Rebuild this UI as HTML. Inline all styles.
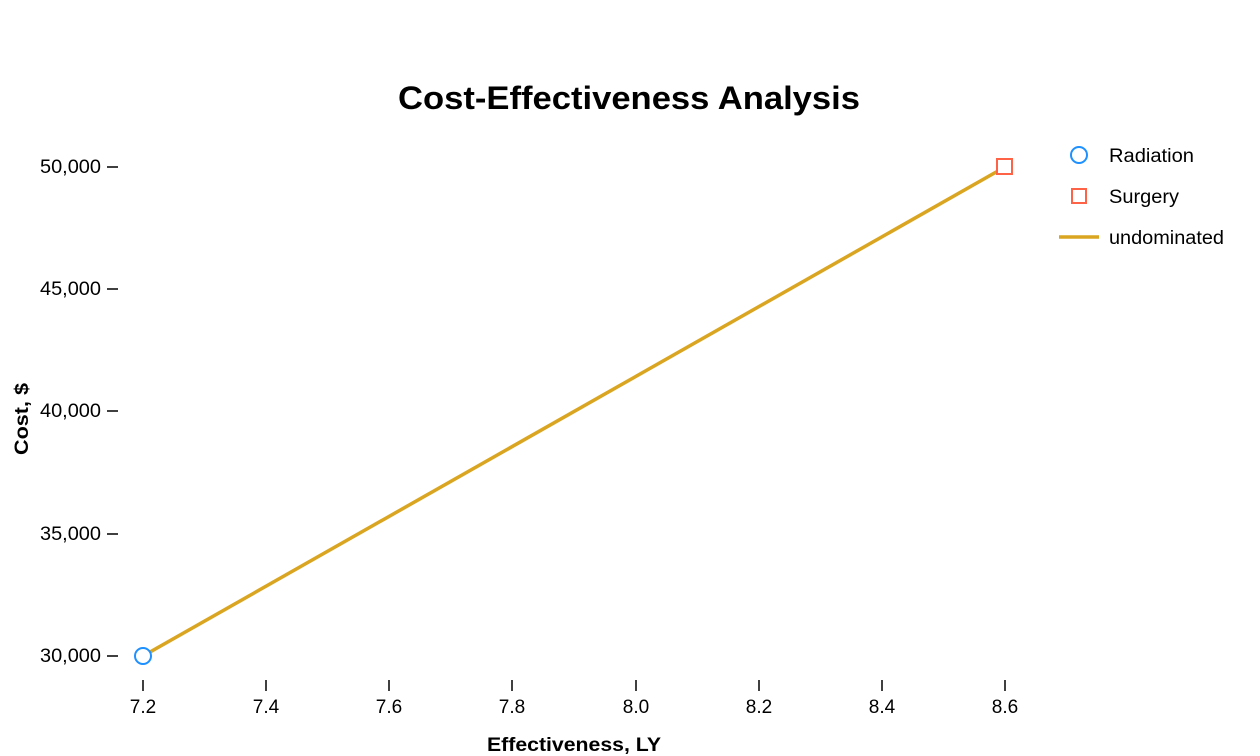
<!DOCTYPE html>
<html><head><meta charset="utf-8"><style>html,body{margin:0;padding:0;background:#fff}svg{display:block}</style></head>
<body>
<svg width="1260" height="756" viewBox="0 0 1260 756" xmlns="http://www.w3.org/2000/svg" font-family="Liberation Sans, sans-serif">
<text x="398" y="109" textLength="462" lengthAdjust="spacingAndGlyphs" font-size="32" font-weight="bold" fill="#000">Cost-Effectiveness Analysis</text>
<g font-size="19" fill="#000">
<text x="40" y="173" textLength="61" lengthAdjust="spacingAndGlyphs">50,000</text>
<text x="40" y="295" textLength="61" lengthAdjust="spacingAndGlyphs">45,000</text>
<text x="40" y="417" textLength="61" lengthAdjust="spacingAndGlyphs">40,000</text>
<text x="40" y="540" textLength="61" lengthAdjust="spacingAndGlyphs">35,000</text>
<text x="40" y="662" textLength="61" lengthAdjust="spacingAndGlyphs">30,000</text>
</g>
<g stroke="#000" stroke-width="1.5">
<line x1="107" x2="118" y1="167" y2="167"/>
<line x1="107" x2="118" y1="289" y2="289"/>
<line x1="107" x2="118" y1="411" y2="411"/>
<line x1="107" x2="118" y1="534" y2="534"/>
<line x1="107" x2="118" y1="656" y2="656"/>
<line x1="143" x2="143" y1="680" y2="691"/>
<line x1="266" x2="266" y1="680" y2="691"/>
<line x1="389" x2="389" y1="680" y2="691"/>
<line x1="512" x2="512" y1="680" y2="691"/>
<line x1="636" x2="636" y1="680" y2="691"/>
<line x1="759" x2="759" y1="680" y2="691"/>
<line x1="882" x2="882" y1="680" y2="691"/>
<line x1="1005" x2="1005" y1="680" y2="691"/>
</g>
<g font-size="19" fill="#000" text-anchor="middle">
<text x="143" y="713">7.2</text>
<text x="266" y="713">7.4</text>
<text x="389" y="713">7.6</text>
<text x="512" y="713">7.8</text>
<text x="636" y="713">8.0</text>
<text x="759" y="713">8.2</text>
<text x="882" y="713">8.4</text>
<text x="1005" y="713">8.6</text>
</g>
<text x="487" y="751" textLength="174" lengthAdjust="spacingAndGlyphs" font-size="19" font-weight="bold">Effectiveness, LY</text>
<text transform="translate(28,455) rotate(-90)" textLength="72" lengthAdjust="spacingAndGlyphs" font-size="19" font-weight="bold">Cost, $</text>
<line x1="143" y1="656" x2="1005" y2="167" stroke="#DAA520" stroke-width="3.5"/>
<circle cx="143" cy="656" r="8" fill="#fff" stroke="#1E90FF" stroke-width="2"/>
<rect x="997" y="159" width="15" height="15" fill="#fff" stroke="#FF6347" stroke-width="2"/>
<circle cx="1079" cy="155" r="8" fill="#fff" stroke="#1E90FF" stroke-width="2"/>
<rect x="1072" y="189" width="14" height="14" fill="#fff" stroke="#FF6347" stroke-width="2"/>
<line x1="1059" x2="1099" y1="237" y2="237" stroke="#DAA520" stroke-width="3.5"/>
<g font-size="19" fill="#000">
<text x="1109" y="162" textLength="85" lengthAdjust="spacingAndGlyphs">Radiation</text>
<text x="1109" y="203" textLength="70" lengthAdjust="spacingAndGlyphs">Surgery</text>
<text x="1109" y="244" textLength="115" lengthAdjust="spacingAndGlyphs">undominated</text>
</g>
</svg>
</body></html>
